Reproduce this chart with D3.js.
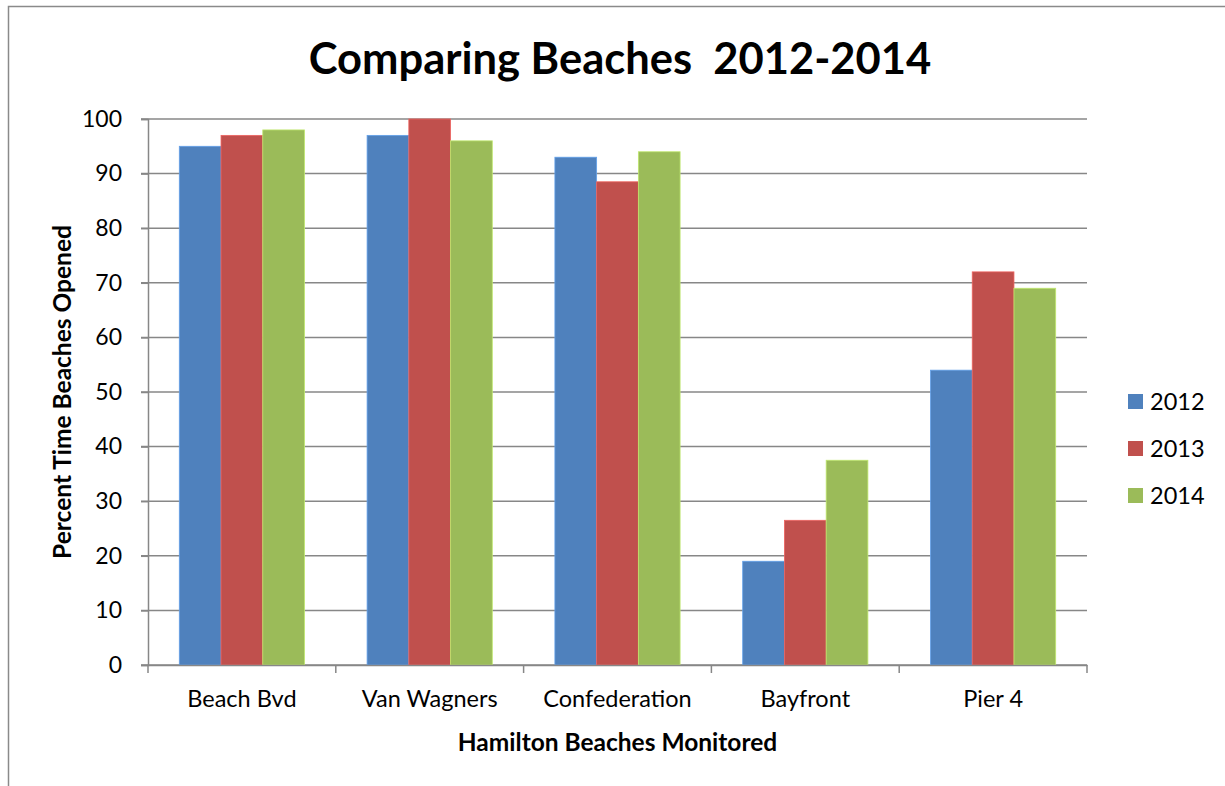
<!DOCTYPE html>
<html>
<head>
<meta charset="utf-8">
<script src="https://cdn.jsdelivr.net/npm/d3@7"></script>
<style>
  body { margin: 0; background: #fff; }
  svg { display: block; font-family: Lato, "Open Sans", sans-serif; }
</style>
</head>
<body>
<div id="chart"></div>
<script>
// Comparing Beaches 2012-2014

const width = 1225,
    height = 786,
    margin = ({ top: 119, right: 138, bottom: 121, left: 148 });

const beaches = ["Beach Bvd", "Van Wagners", "Confederation", "Bayfront", "Pier 4"];
const years = ["2012", "2013", "2014"];
const colors = ["#4F81BD", "#C0504D", "#9BBB59"];
const values2012 = [95, 97, 93, 19, 54];
const values2013 = [97, 100, 88.5, 26.5, 72];
const values2014 = [98, 96, 94, 37.5, 69];
const yTicks = [0, 10, 20, 30, 40, 50, 60, 70, 80, 90, 100];

const series = [values2012, values2013, values2014];

const svg = d3.select("#chart")
    .append("svg")
    .attr("width", width)
    .attr("height", height);

// outer chart border (cropped on right and bottom)
svg.append("path")
    .attr("d", `M8.5,${height} V6.5 H${width}`)
    .attr("fill", "none")
    .attr("stroke", "#8a8a8a")
    .attr("stroke-width", 1.5);

const x = d3.scaleBand()
    .domain(beaches)
    .range([margin.left, width - margin.right])
    .paddingInner(1 / 3)
    .paddingOuter(1 / 6);

const xs = d3.scaleBand()
    .domain(years)
    .range([0, x.bandwidth()]);

const y = d3.scaleLinear()
    .domain([0, 100])
    .range([height - margin.bottom, margin.top]);

// gridlines
svg.append("g")
    .selectAll("line")
    .data(yTicks)
    .join("line")
    .attr("x1", margin.left - 7)
    .attr("x2", width - margin.right)
    .attr("y1", d => y(d))
    .attr("y2", d => y(d))
    .attr("stroke", "#878787")
    .attr("stroke-width", 1.5);

// y axis
const yAxis = svg.append("g")
    .attr("transform", `translate(${margin.left},0)`)
    .call(d3.axisLeft(y).tickValues(yTicks).tickSize(7).tickPadding(19));
yAxis.select(".domain").attr("stroke", "#878787").attr("stroke-width", 1.5);
yAxis.selectAll(".tick line").attr("stroke", "#878787").attr("stroke-width", 1.5);
yAxis.selectAll("text")
    .attr("font-size", 23)
    .attr("font-family", "Lato, sans-serif")
    .attr("fill", "#000");

// bars
const groups = svg.append("g")
    .selectAll("g")
    .data(beaches)
    .join("g")
    .attr("transform", d => `translate(${x(d)},0)`);

groups.selectAll("rect")
    .data((d, i) => years.map((yr, j) => ({ year: yr, value: series[j][i], c: colors[j] })))
    .join("rect")
    .attr("x", d => xs(d.year))
    .attr("width", xs.bandwidth())
    .attr("y", d => y(d.value))
    .attr("height", d => y(0) - y(d.value))
    .attr("fill", d => d.c)
    .attr("stroke", d => d3.color(d.c).brighter(0.6))
    .attr("stroke-width", 0.8);

// x axis
const xAxis = svg.append("g")
    .attr("transform", `translate(0,${y(0)})`)
    .call(d3.axisBottom(x).tickSize(0).tickPadding(25));
xAxis.select(".domain").attr("stroke", "#878787").attr("stroke-width", 1.5);
xAxis.selectAll("text")
    .attr("font-size", 23.5)
    .attr("font-family", "Lato, sans-serif")
    .attr("fill", "#000");

// category boundary ticks
svg.append("g")
    .selectAll("line")
    .data(d3.range(beaches.length + 1))
    .join("line")
    .attr("x1", i => margin.left + i * x.step())
    .attr("x2", i => margin.left + i * x.step())
    .attr("y1", y(0))
    .attr("y2", y(0) + 8)
    .attr("stroke", "#878787")
    .attr("stroke-width", 1.5);

// title
svg.append("text")
    .attr("x", 620)
    .attr("y", 74)
    .attr("text-anchor", "middle")
    .attr("font-size", 43.5)
    .attr("font-weight", "bold")
    .attr("xml:space", "preserve")
    .text("Comparing Beaches  2012-2014");

// axis titles
svg.append("text")
    .attr("x", (margin.left + width - margin.right) / 2)
    .attr("y", 751)
    .attr("text-anchor", "middle")
    .attr("font-size", 24.5)
    .attr("font-weight", "bold")
    .text("Hamilton Beaches Monitored");

svg.append("text")
    .attr("transform", `translate(71,${(y(0) + y(100)) / 2}) rotate(-90)`)
    .attr("text-anchor", "middle")
    .attr("font-size", 24.5)
    .attr("font-weight", "bold")
    .text("Percent Time Beaches Opened");

// legend
const legend = svg.append("g")
    .selectAll("g")
    .data(years)
    .join("g")
    .attr("transform", (d, i) => `translate(1128,${394 + i * 47})`);

legend.append("rect")
    .attr("width", 15)
    .attr("height", 15)
    .attr("fill", (d, i) => colors[i]);

legend.append("text")
    .attr("x", 22)
    .attr("y", 16)
    .attr("font-size", 23.5)
    .text(d => d);
</script>
</body>
</html>
